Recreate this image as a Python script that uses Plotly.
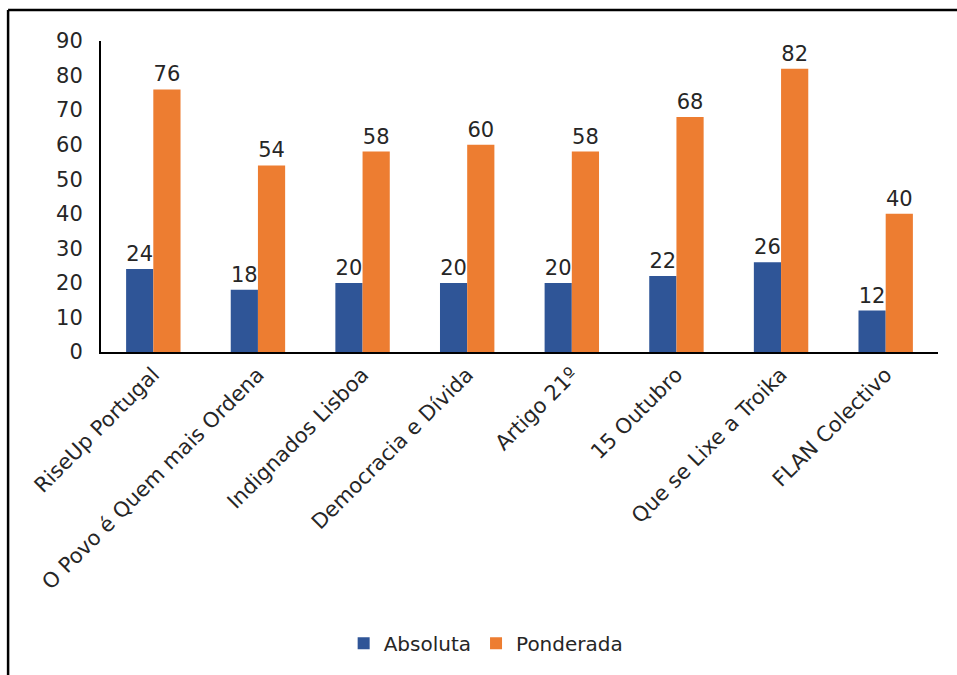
import plotly.graph_objects as go

categories = ["RiseUp Portugal", "O Povo é Quem mais Ordena", "Indignados Lisboa",
              "Democracia e Dívida", "Artigo 21º", "15 Outubro",
              "Que se Lixe a Troika", "FLAN Colectivo"]
absoluta = [24, 18, 20, 20, 20, 22, 26, 12]
ponderada = [76, 54, 58, 60, 58, 68, 82, 40]
y_ticks = [0, 10, 20, 30, 40, 50, 60, 70, 80, 90]

FONT = "Verdana, DejaVu Sans, sans-serif"
TXT = "#262626"
FS = 21

fig = go.Figure()
fig.add_trace(go.Bar(x=categories, y=absoluta, name="Absoluta",
                     marker=dict(color="#2F5597", line=dict(width=0)),
                     text=absoluta, textposition="outside", cliponaxis=False,
                     textfont=dict(family=FONT, size=FS, color=TXT)))
fig.add_trace(go.Bar(x=categories, y=ponderada, name="Ponderada",
                     marker=dict(color="#ED7D31", line=dict(width=0)),
                     text=ponderada, textposition="outside", cliponaxis=False,
                     textfont=dict(family=FONT, size=FS, color=TXT)))

fig.update_layout(
    width=957, height=675,
    margin=dict(l=101, r=19, t=41, b=323),
    paper_bgcolor="white", plot_bgcolor="white",
    font=dict(family=FONT, size=FS, color=TXT),
    barmode="group", bargap=0.48, bargroupgap=0,
    showlegend=True,
    legend=dict(orientation="h", xref="container", yref="container",
                x=0.508, xanchor="center", y=0.047, yanchor="middle",
                font=dict(family=FONT, size=20, color=TXT),
                itemwidth=30, traceorder="normal"),
    xaxis=dict(tickangle=-45, showline=True, linecolor="black", linewidth=2,
               showgrid=False, ticks="", tickfont=dict(family=FONT, size=FS, color=TXT)),
    yaxis=dict(range=[0, 90], tickvals=y_ticks, showline=True, linecolor="black",
               linewidth=2, showgrid=False, ticks="", zeroline=False,
               ticklabelstandoff=12,
               tickfont=dict(family=FONT, size=FS, color=TXT)),
)

# outer frame (cropped chart border)
fig.add_shape(type="line", xref="paper", yref="paper", x0=-0.111, x1=-0.111,
              y0=-1.2, y1=1.0997, line=dict(color="black", width=2.5))
fig.add_shape(type="line", xref="paper", yref="paper", x0=-0.111, x1=1.1,
              y0=1.0997, y1=1.0997, line=dict(color="black", width=2.5))

fig.write_html("out.html")
